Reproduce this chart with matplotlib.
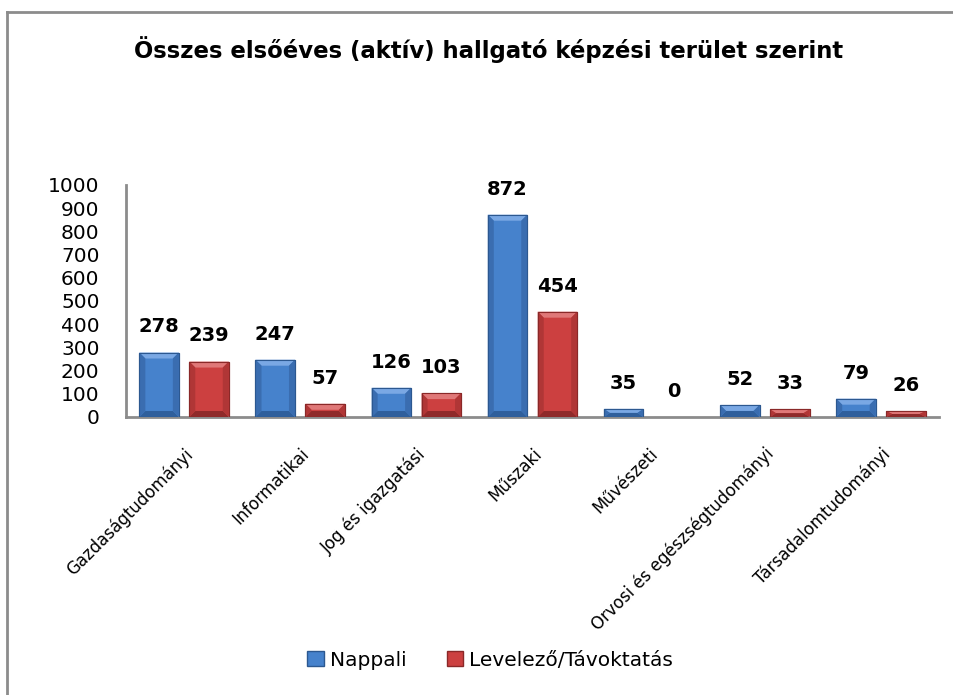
import matplotlib
matplotlib.use("Agg")
import matplotlib.pyplot as plt
from matplotlib.patches import Polygon, Patch
from matplotlib.lines import Line2D

categories = ["Gazdaságtudományi", "Informatikai", "Jog és igazgatási", "Műszaki",
              "Művészeti", "Orvosi és egészségtudományi", "Társadalomtudományi"]
nappali = [278, 247, 126, 872, 35, 52, 79]
levelezo = [239, 57, 103, 454, 0, 33, 26]
series_names = ["Nappali", "Levelező/Távoktatás"]
yticks = list(range(0, 1001, 100))

plt.rcParams['font.family'] = ['DejaVu Sans']

W, H = 954, 695
fig = plt.figure(figsize=(W / 100, H / 100), dpi=100)
ax_l, ax_r, ax_b, ax_t = 126, 939, 417, 185
ax = fig.add_axes([ax_l / W, 1 - ax_b / H, (ax_r - ax_l) / W, (ax_b - ax_t) / H])

# outer border (left and top lines)
fig.add_artist(Line2D([7 / W, 7 / W], [0, 1 - 12 / H], transform=fig.transFigure,
                      color='#8c8c8c', lw=2))
fig.add_artist(Line2D([7 / W, 1], [1 - 12 / H, 1 - 12 / H], transform=fig.transFigure,
                      color='#8c8c8c', lw=2))

xmin, xmax = -0.5, len(categories) - 0.5
ax.set_xlim(xmin, xmax)
ax.set_ylim(0, 1000)
px_x = (xmax - xmin) / (ax_r - ax_l)   # data units per pixel
px_y = 1000 / (ax_b - ax_t)

bw = 0.34
off = 0.215
styles = [
    dict(face='#4682cc', top='#7aa8e4', bot='#2f5f9c', side='#3a6db0', edge='#2c5890'),
    dict(face='#cc4040', top='#e07878', bot='#8f2a2a', side='#b03636', edge='#8a2828'),
]


def bevel_bar(x0, h, st):
    x1 = x0 + bw
    ax.add_patch(Polygon([[x0, 0], [x1, 0], [x1, h], [x0, h]], closed=True,
                         facecolor=st['face'], edgecolor=st['edge'], lw=0.8, zorder=2))
    if h <= 0:
        return
    bx = 6 * px_x
    by = min(6 * px_y, h / 2)
    bxx = min(bx, bw / 2)
    ax.add_patch(Polygon([[x0, h], [x1, h], [x1 - bxx, h - by], [x0 + bxx, h - by]],
                         closed=True, facecolor=st['top'], lw=0, zorder=3))
    ax.add_patch(Polygon([[x0, 0], [x1, 0], [x1 - bxx, by], [x0 + bxx, by]],
                         closed=True, facecolor=st['bot'], lw=0, zorder=3))
    ax.add_patch(Polygon([[x0, 0], [x0 + bxx, by], [x0 + bxx, h - by], [x0, h]],
                         closed=True, facecolor=st['side'], lw=0, zorder=3))
    ax.add_patch(Polygon([[x1, 0], [x1 - bxx, by], [x1 - bxx, h - by], [x1, h]],
                         closed=True, facecolor=st['side'], lw=0, zorder=3))
    ax.add_patch(Polygon([[x0, 0], [x1, 0], [x1, h], [x0, h]], closed=True,
                         facecolor='none', edgecolor=st['edge'], lw=0.8, zorder=4))


for si, vals in enumerate([nappali, levelezo]):
    sign = -1 if si == 0 else 1
    for i, v in enumerate(vals):
        cx = i + sign * off
        bevel_bar(cx - bw / 2, v, styles[si])
        ax.annotate(str(v), (cx, v), xytext=(0, 14.5), textcoords='offset points',
                    ha='center', va='baseline', fontsize=14, fontweight='bold',
                    color='black', zorder=5)

ax.set_yticks(yticks)
ax.set_yticklabels([str(t) for t in yticks], fontsize=14.5)
ax.set_xticks(range(len(categories)))
ax.set_xticklabels(categories, rotation=45, ha='right', va='top',
                   rotation_mode='anchor', fontsize=12)
ax.tick_params(axis='y', length=0, pad=19)
ax.tick_params(axis='x', length=0, pad=20)
for s in ['top', 'right']:
    ax.spines[s].set_visible(False)
for s in ['left', 'bottom']:
    ax.spines[s].set_color('#8c8c8c')
    ax.spines[s].set_linewidth(2)

fig.text(489 / W, 1 - 50 / H, "Összes elsőéves (aktív) hallgató képzési terület szerint",
         ha='center', va='center', fontsize=16.4, fontweight='bold')

handles = [Patch(facecolor=styles[0]['face'], edgecolor=styles[0]['edge']),
           Patch(facecolor=styles[1]['face'], edgecolor=styles[1]['edge'])]
fig.legend(handles, series_names, loc='center', bbox_to_anchor=(490 / W, 1 - 660 / H),
           ncol=2, frameon=False, fontsize=14.5, handlelength=0.8, handleheight=0.8,
           handletextpad=0.3, columnspacing=2.0)

fig.savefig("out.png", dpi=100)
